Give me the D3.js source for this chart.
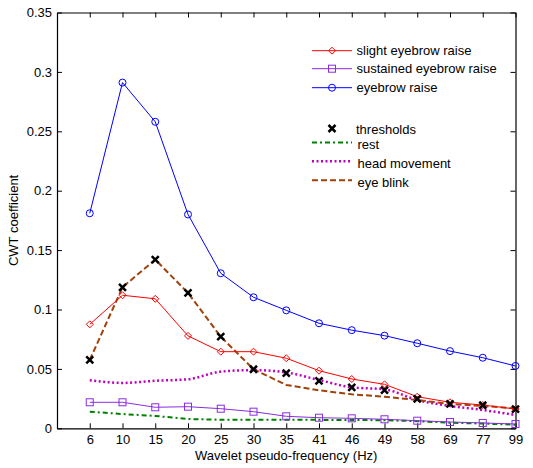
<!DOCTYPE html>
<html>
<head>
<meta charset="utf-8">
<script src="https://cdn.jsdelivr.net/npm/d3@7"></script>
<style>
  body { margin: 0; background: #fff; }
  svg { display: block; font-family: Arial, "Liberation Sans", sans-serif; }
</style>
</head>
<body>
<svg id="chart" width="533" height="468"></svg>
<script>
// ---- data ----
const freqs = [6, 10, 15, 20, 25, 30, 35, 41, 46, 49, 58, 69, 77, 99];
const slightEyebrow = [0.0875, 0.112, 0.109, 0.0778, 0.0645, 0.0645, 0.059, 0.0485, 0.0415, 0.037, 0.0266, 0.0219, 0.0196, 0.0162];
const sustainedEyebrow = [0.0219, 0.0219, 0.0177, 0.0182, 0.0165, 0.014, 0.0101, 0.0089, 0.0084, 0.0076, 0.0064, 0.0053, 0.0045, 0.0036];
const eyebrowRaise = [0.181, 0.291, 0.258, 0.180, 0.1305, 0.1103, 0.0993, 0.0884, 0.0826, 0.078, 0.0716, 0.065, 0.0594, 0.0525];
const thresholds = [0.0575, 0.1187, 0.142, 0.114, 0.0771, 0.0497, 0.0465, 0.040, 0.0345, 0.0322, 0.0247, 0.0205, 0.0194, 0.0162];
const rest = [0.014, 0.012, 0.0104, 0.0078, 0.0072, 0.0072, 0.0071, 0.0071, 0.007, 0.0068, 0.006, 0.0047, 0.004, 0.003];
const headMovement = [0.0405, 0.0382, 0.040, 0.0413, 0.0477, 0.049, 0.047, 0.0407, 0.0345, 0.0328, 0.0238, 0.0188, 0.0154, 0.0112];
const eyeBlink = [0.0575, 0.1187, 0.142, 0.114, 0.0771, 0.0497, 0.0365, 0.032, 0.0286, 0.0266, 0.0238, 0.0205, 0.0188, 0.0168];
const yTicks = [0, 0.05, 0.1, 0.15, 0.2, 0.25, 0.3, 0.35];
const xLabel = "Wavelet pseudo-frequency (Hz)";
const yLabel = "CWT coefficient";

// ---- layout ----
const svg = d3.select("#chart");
const L = 57, R = 515.5, T = 12.5, B = 428.3;
const x = d3.scaleLinear().domain([0, freqs.length]).range([L, R]);
const y = d3.scaleLinear().domain([0, 0.35]).range([B, T]);
const idx = freqs.map((_, i) => i + 1);
const fmt = d => d === 0 ? "0" : String(+d.toFixed(2));

// axes
const gx = svg.append("g").attr("transform", `translate(0,${B})`)
  .call(d3.axisBottom(x).tickValues(idx).tickFormat(i => freqs[i - 1]).tickSizeInner(-5).tickSizeOuter(0).tickPadding(6));
const gxTop = svg.append("g").attr("transform", `translate(0,${T})`)
  .call(d3.axisTop(x).tickValues(idx).tickFormat("").tickSizeInner(-5).tickSizeOuter(0));
const gy = svg.append("g").attr("transform", `translate(${L},0)`)
  .call(d3.axisLeft(y).tickValues(yTicks).tickFormat(fmt).tickSizeInner(-5).tickSizeOuter(0).tickPadding(5));
const gyR = svg.append("g").attr("transform", `translate(${R},0)`)
  .call(d3.axisRight(y).tickValues(yTicks).tickFormat("").tickSizeInner(-5).tickSizeOuter(0));
[gx, gxTop, gy, gyR].forEach(g => {
  g.selectAll(".domain").attr("stroke", "#000").attr("stroke-width", 1.2);
  g.selectAll(".tick line").attr("stroke", "#000");
  g.selectAll(".tick text").attr("fill", "#000").attr("font-size", 13)
    .attr("font-family", "Arial, 'Liberation Sans', sans-serif");
});

svg.append("text").attr("x", (L + R) / 2).attr("y", 460).attr("text-anchor", "middle")
  .attr("font-size", 13).text(xLabel);
svg.append("text").attr("transform", `translate(18,${(T + B) / 2}) rotate(-90)`)
  .attr("text-anchor", "middle").attr("font-size", 13).text(yLabel);

// ---- lines ----
const line = d3.line().x((d, i) => x(i + 1)).y(d => y(d));
const smooth = d3.line().x((d, i) => x(i + 1)).y(d => y(d)).curve(d3.curveMonotoneX);
const plot = svg.append("g");

function addLine(data, color, width, dash, gen) {
  plot.append("path").datum(data).attr("fill", "none").attr("stroke", color)
    .attr("stroke-width", width).attr("stroke-dasharray", dash || null)
    .attr("d", gen || line);
}
addLine(rest, "#008000", 2, "5,3,2,3");
addLine(headMovement, "#c000c0", 2.5, "2,2.5", smooth);
addLine(eyeBlink, "#a0420a", 2, "6,3");
addLine(sustainedEyebrow, "#8a2be2", 1);
addLine(slightEyebrow, "#ff0000", 1);
addLine(eyebrowRaise, "#0000ff", 1);

const diamond = "M0,-3.5L3.5,0L0,3.5L-3.5,0Z";
function markers(data, kind, color) {
  const g = plot.append("g");
  data.forEach((v, i) => {
    const cx = x(i + 1), cy = y(v);
    drawMarker(g, kind, color, cx, cy);
  });
}
function drawMarker(g, kind, color, cx, cy) {
  if (kind === "diamond") {
    g.append("path").attr("d", diamond).attr("transform", `translate(${cx},${cy})`)
      .attr("fill", "none").attr("stroke", color).attr("stroke-width", 1);
  } else if (kind === "square") {
    g.append("rect").attr("x", cx - 3.5).attr("y", cy - 3.5).attr("width", 7).attr("height", 7)
      .attr("fill", "none").attr("stroke", color).attr("stroke-width", 1);
  } else if (kind === "circle") {
    g.append("circle").attr("cx", cx).attr("cy", cy).attr("r", 3.5)
      .attr("fill", "none").attr("stroke", color).attr("stroke-width", 1);
  } else if (kind === "x") {
    g.append("path").attr("d", `M${cx - 3.5},${cy - 3.5}L${cx + 3.5},${cy + 3.5}M${cx - 3.5},${cy + 3.5}L${cx + 3.5},${cy - 3.5}`)
      .attr("stroke", color).attr("stroke-width", 2.5).attr("fill", "none");
  }
}
markers(sustainedEyebrow, "square", "#8a2be2");
markers(slightEyebrow, "diamond", "#ff0000");
markers(eyebrowRaise, "circle", "#0000ff");
markers(thresholds, "x", "#000");

// ---- legends ----
const leg = svg.append("g").attr("font-size", 13);
const legend1 = [
  { name: "slight eyebrow raise", color: "#ff0000", kind: "diamond", y: 50.7 },
  { name: "sustained eyebrow raise", color: "#8a2be2", kind: "square", y: 68.7 },
  { name: "eyebrow raise", color: "#0000ff", kind: "circle", y: 87.7 }
];
legend1.forEach(d => {
  leg.append("line").attr("x1", 312).attr("x2", 352).attr("y1", d.y).attr("y2", d.y)
    .attr("stroke", d.color).attr("stroke-width", 1);
  drawMarker(leg, d.kind, d.color, 332, d.y);
  leg.append("text").attr("x", 356.5).attr("y", d.y).attr("dy", "0.35em").text(d.name);
});
drawMarker(leg, "x", "#000", 332, 128.5);
leg.append("text").attr("x", 356).attr("y", 129).attr("dy", "0.35em").text("thresholds");
const legend2 = [
  { name: "rest", color: "#008000", width: 2, dash: "5,3,2,3", y: 144.5 },
  { name: "head movement", color: "#c000c0", width: 2.5, dash: "2,2.5", y: 163.3 },
  { name: "eye blink", color: "#a0420a", width: 2, dash: "6,3", y: 182.3 }
];
legend2.forEach(d => {
  leg.append("line").attr("x1", 312).attr("x2", 352).attr("y1", d.y - 2).attr("y2", d.y - 2)
    .attr("stroke", d.color).attr("stroke-width", d.width).attr("stroke-dasharray", d.dash);
  leg.append("text").attr("x", 357.5).attr("y", d.y).attr("dy", "0.35em").text(d.name);
});
</script>
</body>
</html>
